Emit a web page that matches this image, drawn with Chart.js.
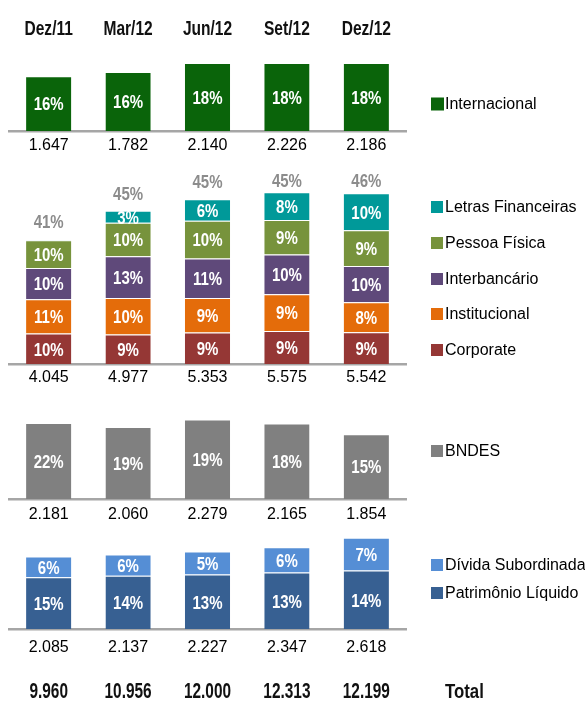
<!DOCTYPE html>
<html><head><meta charset="utf-8">
<script src="https://cdn.jsdelivr.net/npm/chart.js@4.4.0/dist/chart.umd.min.js"></script>
<style>
html,body{margin:0;padding:0;background:#fff;width:585px;height:702px;overflow:hidden}
canvas{position:absolute;left:0}
</style></head><body>
<canvas id="c1" width="585" height="160" style="top:0px"></canvas>
<canvas id="c2" width="585" height="235" style="top:160px"></canvas>
<canvas id="c3" width="585" height="135" style="top:395px"></canvas>
<canvas id="c4" width="585" height="172" style="top:530px"></canvas>
<script>
// ---------- data ----------
const categories = ['Dez/11', 'Mar/12', 'Jun/12', 'Set/12', 'Dez/12'];
const totals = [9960, 10956, 12000, 12313, 12199];

const internacional = [1647, 1782, 2140, 2226, 2186];
const internacionalPct = [16, 16, 18, 18, 18];

const corporate = [993, 960, 1021, 1069, 1030];
const corporatePct = [10, 9, 9, 9, 9];
const institucional = [1110, 1183, 1121, 1194, 978];
const institucionalPct = [11, 10, 9, 9, 8];
const interbancario = [1013, 1357, 1283, 1289, 1174];
const interbancarioPct = [10, 13, 11, 10, 10];
const pessoaFisica = [900, 1089, 1228, 1125, 1164];
const pessoaFisicaPct = [10, 10, 10, 9, 9];
const letrasFinanceiras = [29, 388, 700, 898, 1196];
const letrasFinanceirasPct = [null, 3, 6, 8, 10];
const domesticoPct = [41, 45, 45, 45, 46];

const bndes = [2181, 2060, 2279, 2165, 1854];
const bndesPct = [22, 19, 19, 18, 15];

const patrimonioLiquido = [1486, 1530, 1568, 1622, 1680];
const patrimonioLiquidoPct = [15, 14, 13, 13, 14];
const dividaSubordinada = [599, 607, 659, 725, 938];
const dividaSubordinadaPct = [6, 6, 5, 6, 7];

// ---------- helpers ----------
const FONT = "'Liberation Sans', Arial, Helvetica, sans-serif";
Chart.defaults.font.family = FONT;
const fmt = n => String(n).replace(/\B(?=(\d{3})+(?!\d))/g, '.');
const sumAt = (arrs, i) => arrs.reduce((s, a) => s + a[i], 0);

// condensed bold text, centred at (x, cy) on its cap height
function condText(ctx, text, x, cy, size, sx, color, align) {
  ctx.save();
  ctx.font = 'bold ' + size + 'px ' + FONT;
  ctx.fillStyle = color;
  ctx.textAlign = align || 'center';
  ctx.textBaseline = 'alphabetic';
  ctx.translate(x, cy + 0.358 * size);
  ctx.scale(sx, 1);
  ctx.fillText(text, 0, 0);
  ctx.restore();
}

function barLabels(stackPct) {
  return {
    id: 'barLabels',
    afterDatasetsDraw(chart) {
      const ctx = chart.ctx, area = chart.chartArea;
      chart.data.datasets.forEach((ds, di) => {
        const meta = chart.getDatasetMeta(di);
        meta.data.forEach((el, i) => {
          const t = ds.pct[i];
          if (t == null) return;
          const top = Math.max(el.y, area.top);
          condText(ctx, t + '%', el.x, (top + el.base) / 2, 19, 0.79, '#ffffff');
        });
      });
      if (stackPct) {
        const last = chart.getDatasetMeta(chart.data.datasets.length - 1);
        last.data.forEach((el, i) =>
          condText(ctx, stackPct[i] + '%', el.x, Math.max(el.y - 18, 20), 19, 0.79, '#8c8c8c'));
      }
    }
  };
}

function rowText(labels, cy, size, sx) {
  return {
    id: 'rowText',
    afterDraw(chart) {
      const xs = chart.scales.x;
      labels.forEach((t, i) => condText(chart.ctx, t, xs.getPixelForValue(i), cy, size, sx, '#111'));
    }
  };
}

function sideLegend(ys, box, extra) {
  return {
    id: 'sideLegend',
    afterDraw(chart) {
      const ctx = chart.ctx;
      ctx.save();
      ctx.font = '16px ' + FONT;
      ctx.textAlign = 'left';
      ctx.textBaseline = 'middle';
      const dss = chart.data.datasets.slice().reverse();
      dss.forEach((ds, k) => {
        const y = ys[k];
        ctx.fillStyle = ds.backgroundColor;
        ctx.fillRect(431, y - box / 2, box, box);
        ctx.fillStyle = '#000';
        ctx.fillText(ds.label, 445, y + 1);
      });
      ctx.restore();
      if (extra) condText(ctx, extra.text, 445, extra.y, 21, 0.8, '#111', 'left');
    }
  };
}

function ds(label, data, pct, color) {
  return {
    label, data, pct, backgroundColor: color,
    borderColor: 'rgba(255,255,255,0.55)', borderWidth: {top: 1, left: 0, right: 0, bottom: 0},
    borderSkipped: 'start', barPercentage: 0.57, categoryPercentage: 1.0
  };
}

function xAxis(sums, pad, h) {
  return {
    type: 'category', position: 'bottom', stacked: true, offset: true,
    grid: {display: false, drawTicks: false},
    border: {display: true, color: '#a6a6a6', width: 2.5},
    ticks: {padding: pad, color: '#000', font: {size: 16}, maxRotation: 0, autoSkip: false,
      callback: (v, i) => fmt(sums[i])},
    afterFit: a => { a.height = h; a.paddingLeft = 0; a.paddingRight = 0; }
  };
}

function baseOptions(padTop, padBottom, yMax, xScale) {
  return {
    responsive: false, animation: false, devicePixelRatio: 1,
    layout: {padding: {left: 9, right: 179, top: padTop, bottom: padBottom}},
    plugins: {legend: {display: false}, tooltip: {enabled: false}},
    scales: {x: xScale, y: {display: false, stacked: true, min: 0, max: yMax}}
  };
}

// ---------- panel 1: Internacional (with category header row) ----------
new Chart(document.getElementById('c1'), {
  type: 'bar',
  data: {labels: categories, datasets: [ds('Internacional', internacional, internacionalPct, '#0a640a')]},
  options: baseOptions(64, 0, 2020, xAxis(internacional, 5, 29)),
  plugins: [barLabels(null), rowText(categories, 27, 21, 0.74), sideLegend([104], 13)]
});

// ---------- panel 2: Doméstico ----------
const domSeries = [corporate, institucional, interbancario, pessoaFisica, letrasFinanceiras];
const domSums = categories.map((c, i) => sumAt(domSeries, i));
new Chart(document.getElementById('c2'), {
  type: 'bar',
  data: {labels: categories, datasets: [
    ds('Corporate', corporate, corporatePct, '#953735'),
    ds('Institucional', institucional, institucionalPct, '#e46c0a'),
    ds('Interbancário', interbancario, interbancarioPct, '#5f497a'),
    ds('Pessoa Física', pessoaFisica, pessoaFisicaPct, '#77933c'),
    ds('Letras Financeiras', letrasFinanceiras, letrasFinanceirasPct, '#009999')
  ]},
  options: baseOptions(10, 0, 6300, xAxis(domSums, 4, 31)),
  plugins: [barLabels(domesticoPct), sideLegend([47, 83, 119, 154, 190], 12)]
});

// ---------- panel 3: BNDES ----------
new Chart(document.getElementById('c3'), {
  type: 'bar',
  data: {labels: categories, datasets: [ds('BNDES', bndes, bndesPct, '#808080')]},
  options: baseOptions(15, 0, 2550, xAxis(bndes, 6, 31)),
  plugins: [barLabels(null), sideLegend([56], 12)]
});

// ---------- panel 4: Capital (with totals row) ----------
const capSeries = [patrimonioLiquido, dividaSubordinada];
const capSums = categories.map((c, i) => sumAt(capSeries, i));
new Chart(document.getElementById('c4'), {
  type: 'bar',
  data: {labels: categories, datasets: [
    ds('Patrimônio Líquido', patrimonioLiquido, patrimonioLiquidoPct, '#376092'),
    ds('Dívida Subordinada', dividaSubordinada, dividaSubordinadaPct, '#558ed5')
  ]},
  options: baseOptions(5, 43, 2700, xAxis(capSums, 9, 30)),
  plugins: [barLabels(null), rowText(totals.map(fmt), 160, 22, 0.7),
            sideLegend([35, 63], 12, {text: 'Total', y: 160})]
});
</script>
</body></html>
